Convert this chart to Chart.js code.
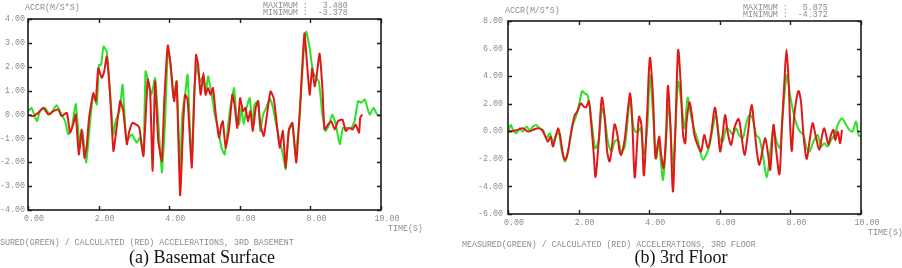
<!DOCTYPE html>
<html>
<head>
<meta charset="utf-8">
<script src="https://cdn.jsdelivr.net/npm/chart.js@4.4.1/dist/chart.umd.min.js"></script>
<style>
  html, body { margin: 0; padding: 0; background: #fff; }
  body { width: 902px; height: 268px; position: relative; overflow: hidden; }
  canvas { position: absolute; top: 0; }
  .mono { position: absolute; font-family: "Liberation Mono", monospace; font-size: 8.3px; line-height: 9px; color: #8c8c8c; white-space: pre; }
  .cap { position: absolute; font-family: "Liberation Serif", serif; font-size: 18px; color: #111; white-space: pre; transform: translateX(-50%); top: 247px; }
</style>
</head>
<body>
<canvas id="basementChart" width="450" height="236" style="left:0"></canvas>
<canvas id="floorChart" width="452" height="240" style="left:450px"></canvas>

<div class="mono" style="left:25px;top:3px">ACCR(M/S*S)</div>
<div class="mono" style="left:263px;top:1px">MAXIMUM :   3.480</div>
<div class="mono" style="left:263px;top:8px">MINIMUM :  -3.378</div>
<div class="mono" style="left:388px;top:224px">TIME(S)</div>
<div class="mono" style="left:-15px;top:238px">MEASURED(GREEN) / CALCULATED (RED) ACCELERATIONS, 3RD BASEMENT</div>
<div class="cap" style="left:202px">(a) Basemat Surface</div>

<div class="mono" style="left:505px;top:6px">ACCR(M/S*S)</div>
<div class="mono" style="left:743px;top:3px">MAXIMUM :   5.875</div>
<div class="mono" style="left:743px;top:10px">MINIMUM :  -4.372</div>
<div class="mono" style="left:868px;top:228px">TIME(S)</div>
<div class="mono" style="left:462px;top:240px">MEASURED(GREEN) / CALCULATED (RED) ACCELERATIONS, 3RD FLOOR</div>
<div class="cap" style="left:681px">(b) 3rd Floor</div>

<script>
// tick values
const timeTicks = [0, 2, 4, 6, 8, 10];
const basementAccTicks = [-4, -3, -2, -1, 0, 1, 2, 3, 4];
const floorAccTicks = [-6, -4, -2, 0, 2, 4, 6, 8];

// (a) basemat surface - measured (green)
const basementMeasuredTime = [0.01, 0.10, 0.25, 0.34, 0.48, 0.62, 0.81, 0.95, 1.05, 1.14, 1.24, 1.35, 1.41, 1.47, 1.54, 1.65, 1.76, 1.85, 1.95, 2.01, 2.07, 2.14, 2.23, 2.32, 2.42, 2.48, 2.59, 2.68, 2.75, 2.80, 2.94, 3.08, 3.17, 3.27, 3.33, 3.41, 3.50, 3.60, 3.69, 3.79, 3.88, 3.96, 4.02, 4.12, 4.21, 4.31, 4.37, 4.45, 4.52, 4.59, 4.64, 4.71, 4.78, 4.87, 4.97,
  5.03, 5.10, 5.19, 5.29, 5.38, 5.48, 5.57, 5.67, 5.76, 5.84, 5.90, 5.98, 6.04, 6.11, 6.19, 6.28, 6.36, 6.42, 6.52, 6.58, 6.66, 6.75, 6.85, 6.94, 7.03, 7.13, 7.22, 7.30, 7.39, 7.49, 7.58, 7.70, 7.79, 7.88, 7.98, 8.07, 8.17, 8.24, 8.34, 8.43, 8.53, 8.62, 8.72, 8.83, 8.92, 9.04, 9.16, 9.25, 9.35, 9.44, 9.54, 9.68, 9.79, 9.89, 10.0];
const basementMeasuredAcc = [0.14, 0.28, -0.28, 0.14, 0.28, 0.0, 0.39, 0.0, -0.28, -0.83, -0.56, 0.44, -0.42, -1.39, -0.69, -2.01, -0.28, 0.83, 0.42, 2.08, 2.08, 2.85, 2.64, 0.97, -0.83, -0.28, 0.14, 1.25, -0.42, -1.11, -0.83, -1.18, -0.97, -1.67, 1.81, 1.39, 0.83, 1.53, -0.28, -2.43, -0.42, 2.64, 2.36, 0.69, 1.39, -2.36, 0.0, 0.83, 1.67, -0.69, -1.94, 0.97, 2.08, 1.39, 1.60,
  0.83, 1.60, 0.97, 0.0, -0.56, -1.39, -1.67, -0.42, 0.56, 1.11, 0.0, -0.42, 0.28, -0.42, 0.28, 0.69, -0.42, 0.42, 0.56, -0.69, 0.0, 0.28, 0.69, 0.28, -0.42, -1.11, -1.67, -2.29, -0.69, -0.42, -1.67, 0.0, 2.22, 3.47, 2.78, 1.81, 1.53, 1.39, 0.0, -0.69, -0.42, 0.0, -0.42, -1.25, -0.56, -0.56, -0.56, -0.28, 0.56, 0.49, 0.63, 0.0, 0.28, 0.0, -0.05];

// (a) basemat surface - calculated (red)
const basementCalcTime = [0.0, 0.15, 0.29, 0.43, 0.58, 0.72, 0.86, 0.95, 1.10, 1.19, 1.28, 1.35, 1.44, 1.52, 1.60, 1.66, 1.73, 1.85, 1.92, 1.99, 2.09, 2.16, 2.23, 2.32, 2.42, 2.51, 2.61, 2.70, 2.80, 2.86, 2.96, 3.13, 3.17, 3.27, 3.39, 3.46, 3.53, 3.60, 3.69, 3.79, 3.86, 3.96, 4.04, 4.14, 4.21, 4.31, 4.40, 4.45, 4.52, 4.59, 4.64, 4.71, 4.76, 4.82, 4.89, 4.97,
  5.03, 5.10, 5.17, 5.24, 5.32, 5.41, 5.48, 5.52, 5.60, 5.70, 5.79, 5.85, 5.93, 6.01, 6.09, 6.16, 6.23, 6.30, 6.37, 6.45, 6.52, 6.58, 6.68, 6.77, 6.87, 6.96, 7.05, 7.13, 7.22, 7.30, 7.39, 7.49, 7.60, 7.71, 7.83, 7.90, 7.98, 8.05, 8.12, 8.17, 8.26, 8.34, 8.40, 8.50, 8.59, 8.69, 8.78, 8.91, 9.00, 9.09, 9.19, 9.28, 9.38, 9.41, 9.47];
const basementCalcAcc = [0.0, -0.07, 0.07, 0.28, 0.0, 0.14, 0.21, -0.07, 0.07, -0.76, -0.42, 0.0, -1.67, -0.63, -1.81, -1.39, -0.14, 0.90, 0.56, 1.94, 1.53, 1.81, 2.43, 0.97, -1.53, -0.56, 0.56, 0.14, -1.25, -0.76, -0.35, -0.49, -0.69, -1.74, 1.46, 0.97, -2.36, 1.39, -1.11, -1.94, 0.56, 2.89, 2.08, 0.56, 1.39, -3.38, -0.28, 0.83, 0.63, -1.11, -2.22, 0.69, 2.50, 2.08, 0.83, 1.74,
  0.83, 1.11, 0.83, 1.11, 0.0, -0.97, -0.42, -0.28, -1.39, -0.56, 0.83, 0.42, -0.56, 0.69, 0.14, 0.28, -0.28, 0.14, -0.69, 0.28, 0.56, -0.42, -0.90, 0.0, 0.97, 0.69, -0.42, -1.39, -0.69, -2.22, -0.63, -0.35, -2.01, 0.42, 3.40, 2.22, 0.83, 1.94, 1.18, 1.53, 2.55, 1.11, -0.63, -0.42, -0.28, -0.63, -0.28, -0.21, -0.69, -0.56, -0.63, -0.42, -0.76, -0.14, 0.0];

// (b) 3rd floor - measured (green)
const floorMeasuredTime = [0.0, 0.08, 0.14, 0.24, 0.33, 0.42, 0.52, 0.61, 0.71, 0.80, 0.90, 0.99, 1.09, 1.18, 1.27, 1.37, 1.44, 1.51, 1.61, 1.68, 1.75, 1.84, 1.94, 2.03, 2.10, 2.17, 2.25, 2.31, 2.38, 2.47, 2.57, 2.66, 2.74, 2.83, 2.93, 3.02, 3.12, 3.21, 3.31, 3.46, 3.54, 3.61, 3.68, 3.76, 3.85, 3.95, 4.02, 4.11, 4.20, 4.27, 4.34, 4.39, 4.48, 4.53, 4.60, 4.67, 4.74, 4.82, 4.91, 5.00,
  5.09, 5.18, 5.28, 5.37, 5.47, 5.53, 5.61, 5.70, 5.80, 5.89, 5.99, 6.08, 6.18, 6.27, 6.37, 6.46, 6.55, 6.65, 6.74, 6.84, 6.93, 7.03, 7.12, 7.22, 7.33, 7.42, 7.52, 7.61, 7.71, 7.80, 7.90, 7.99, 8.08, 8.18, 8.27, 8.37, 8.46, 8.54, 8.65, 8.77, 8.87, 8.96, 9.06, 9.15, 9.25, 9.34, 9.46, 9.58, 9.67, 9.76, 9.86, 9.93, 10.0];
const floorMeasuredAcc = [-0.02, 0.46, 0.10, -0.14, 0.22, -0.02, 0.34, 0.10, 0.34, 0.46, 0.22, 0.10, -0.51, -0.14, -0.75, -0.27, -0.14, -1.23, -2.19, -1.71, -0.75, 0.46, 1.18, 2.14, 2.92, 2.75, 2.63, 1.90, 0.46, -1.23, -0.63, 1.66, 0.94, -0.75, -1.47, -0.75, -0.63, -1.47, -1.11, 2.39, 0.46, -0.02, -0.02, 0.22, -1.71, 0.46, 4.07, 1.18, -1.95, -0.75, -2.43, -3.52, -0.75, 1.90, 0.46, -2.67, -0.02, 3.59, 2.14, 0.22,
  2.43, 1.18, 0.10, -0.63, -1.71, -2.07, -1.71, -1.11, 0.22, 1.18, -0.51, -0.75, 0.22, 0.10, -0.27, 0.22, -0.27, -0.51, 0.46, 1.18, 0.94, -0.27, -0.51, -1.71, -3.35, -1.71, 0.22, -0.75, -1.23, 1.66, 4.07, 2.63, 1.42, 0.46, -0.02, -0.27, -1.23, -1.47, -0.75, -0.27, -1.11, -0.87, -1.11, -0.63, -0.27, 0.46, 0.94, 0.46, 0.10, -0.02, 0.70, -0.27, -0.39];

// (b) 3rd floor - calculated (red)
const floorCalcTime = [0.0, 0.14, 0.28, 0.42, 0.57, 0.71, 0.85, 0.96, 1.06, 1.13, 1.21, 1.27, 1.34, 1.42, 1.49, 1.56, 1.62, 1.70, 1.79, 1.89, 1.96, 2.06, 2.15, 2.22, 2.29, 2.36, 2.43, 2.48, 2.57, 2.66, 2.74, 2.81, 2.88, 2.95, 3.02, 3.10, 3.16, 3.21, 3.31, 3.38, 3.46, 3.52, 3.59, 3.66, 3.71, 3.78, 3.85, 3.94, 4.02, 4.11, 4.18, 4.28, 4.34, 4.41, 4.48, 4.53, 4.60, 4.67, 4.74, 4.82, 4.89, 4.96, 5.02,
  5.06, 5.14, 5.21, 5.28, 5.37, 5.47, 5.56, 5.66, 5.75, 5.86, 5.94, 6.01, 6.08, 6.15, 6.22, 6.32, 6.41, 6.53, 6.60, 6.70, 6.79, 6.90, 6.98, 7.05, 7.12, 7.22, 7.29, 7.37, 7.43, 7.52, 7.59, 7.69, 7.76, 7.83, 7.89, 7.95, 8.00, 8.04, 8.11, 8.23, 8.30, 8.37, 8.46, 8.54, 8.63, 8.71, 8.82, 8.90, 8.96, 9.03, 9.08, 9.15, 9.22, 9.27, 9.34, 9.41, 9.46];
const floorCalcAcc = [-0.02, 0.02, 0.10, 0.22, -0.02, 0.10, 0.22, 0.10, -0.39, -0.75, -0.39, -1.11, -0.51, 0.22, -0.51, -1.71, -2.07, -1.47, -0.02, 1.18, 1.42, 2.02, 1.78, 1.78, 2.19, 0.46, -1.71, -3.30, -0.75, 2.43, 0.94, -1.47, -2.19, -0.99, 0.51, -0.27, -1.47, -1.71, -0.51, 1.18, 2.75, 0.70, -3.35, -0.75, 1.06, 0.46, -3.20, 1.18, 5.33, 2.39, -1.95, -0.39, -1.71, -2.67, -0.02, 3.30, 0.46, -4.37, -0.02, 5.88, 3.59, -0.27, -0.87,
  0.70, 2.10, 1.18, -0.27, -0.99, -1.47, -0.27, -1.23, -0.27, 1.71, 0.22, -1.47, -0.27, 1.18, -0.02, -0.99, 0.22, 0.89, -0.02, -1.71, -0.27, 1.90, 0.22, -1.47, -2.43, -1.23, -0.51, -1.71, -2.80, 0.46, -1.23, -3.11, 0.46, 3.59, 5.93, 3.59, -0.02, -1.42, 1.18, 2.92, 2.14, -0.27, -2.00, -0.75, 0.58, -0.27, -1.35, -0.27, 0.22, -0.51, -0.94, -0.27, 0.10, -0.63, -0.02, -0.87, 0.10];

const GREEN = '#2fe02a';
const RED = '#e01818';
const tickFont = { family: '"Liberation Mono", monospace', size: 8.3 };

function toPoints(times, values) {
    return times.map((t, i) => ({ x: t, y: values[i] }));
}

// box round the plot with short inward tick marks
const framePlugin = {
    id: 'frame',
    afterDatasetsDraw(chart) {
        const { ctx, chartArea: a, scales } = chart;
        ctx.save();
        ctx.strokeStyle = '#1c1c1c';
        ctx.lineWidth = 1.6;
        ctx.strokeRect(a.left, a.top, a.right - a.left, a.bottom - a.top);
        ctx.lineWidth = 1.4;
        ctx.beginPath();
        scales.x.ticks.forEach(t => {
            const px = Math.round(scales.x.getPixelForValue(t.value)) + 0.5;
            ctx.moveTo(px, a.top); ctx.lineTo(px, a.top + 4);
            ctx.moveTo(px, a.bottom); ctx.lineTo(px, a.bottom - 4);
        });
        scales.y.ticks.forEach(t => {
            const py = Math.round(scales.y.getPixelForValue(t.value)) + 0.5;
            ctx.moveTo(a.left, py); ctx.lineTo(a.left + 4, py);
            ctx.moveTo(a.right, py); ctx.lineTo(a.right - 4, py);
        });
        ctx.stroke();
        ctx.restore();
    }
};

function createAccelChart(canvasId, opts) {
    const ctx = document.getElementById(canvasId).getContext('2d');
    return new Chart(ctx, {
        type: 'line',
        data: {
            datasets: [
                { label: 'Measured', data: toPoints(opts.measuredTime, opts.measuredAcc), borderColor: GREEN, borderWidth: 2, pointRadius: 0, tension: opts.tension, order: 2 },
                { label: 'Calculated', data: toPoints(opts.calcTime, opts.calcAcc), borderColor: RED, borderWidth: 2, pointRadius: 0, tension: opts.tension, order: 1 }
            ]
        },
        options: {
            responsive: false,
            animation: false,
            layout: { padding: { top: opts.padTop, right: opts.padRight, left: 0, bottom: 0 } },
            plugins: { legend: { display: false }, tooltip: { enabled: false } },
            scales: {
                x: {
                    type: 'linear', min: 0, max: 10,
                    afterBuildTicks: s => { s.ticks = timeTicks.map(v => ({ value: v })); },
                    afterFit: s => { s.height = opts.xHeight; },
                    grid: { display: false, drawTicks: false },
                    border: { display: false },
                    ticks: { font: tickFont, color: '#8c8c8c', padding: 4, labelOffset: 6, maxRotation: 0, callback: v => v.toFixed(2) }
                },
                y: {
                    type: 'linear', min: opts.yTicks[0], max: opts.yTicks[opts.yTicks.length - 1],
                    afterBuildTicks: s => { s.ticks = opts.yTicks.map(v => ({ value: v })); },
                    afterFit: s => { s.width = opts.yWidth; },
                    grid: { display: false, drawTicks: false },
                    border: { display: false },
                    ticks: { font: tickFont, color: '#8c8c8c', padding: opts.yPad, callback: v => v.toFixed(2) }
                }
            }
        },
        plugins: [framePlugin]
    });
}

createAccelChart('basementChart', {
    measuredTime: basementMeasuredTime, measuredAcc: basementMeasuredAcc,
    calcTime: basementCalcTime, calcAcc: basementCalcAcc,
    yTicks: basementAccTicks, tension: 0.15,
    padTop: 19, padRight: 69, xHeight: 26, yWidth: 28, yPad: 3
});

createAccelChart('floorChart', {
    measuredTime: floorMeasuredTime, measuredAcc: floorMeasuredAcc,
    calcTime: floorCalcTime, calcAcc: floorCalcAcc,
    yTicks: floorAccTicks, tension: 0.3,
    padTop: 21, padRight: 41, xHeight: 26, yWidth: 58, yPad: 5
});
</script>
</body>
</html>
